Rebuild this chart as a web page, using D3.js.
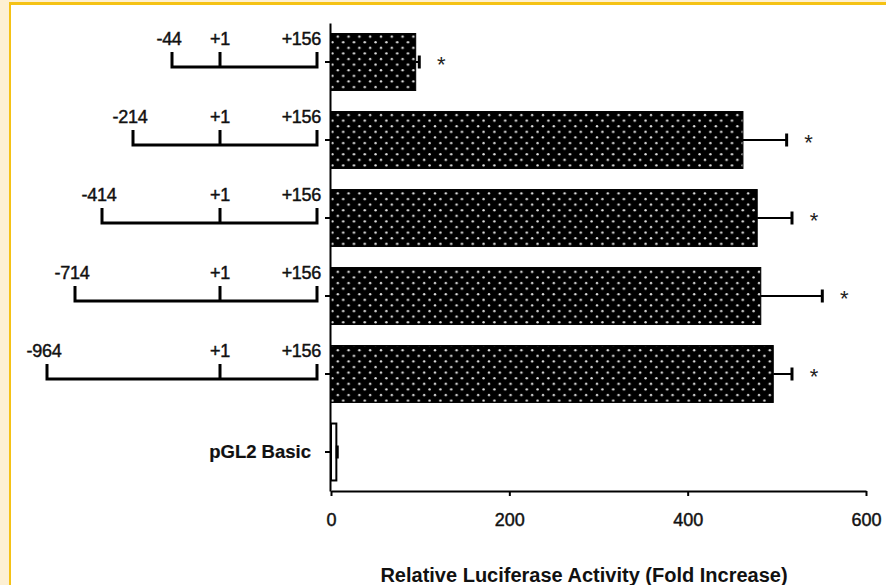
<!DOCTYPE html>
<html>
<head>
<meta charset="utf-8">
<script src="https://cdn.jsdelivr.net/npm/d3@7"></script>
<style>
  body { margin: 0; background: #fff; }
  svg { display: block; font-family: "Liberation Sans", Arial, sans-serif; }
</style>
</head>
<body>
<script>
// constructs, top to bottom
const categories = ["-44", "-214", "-414", "-714", "-964", "pGL2 Basic"];
const starts = [-44, -214, -414, -714, -964, null];
const values = [95, 462, 478, 482, 496, 6];
const errors = [4, 49, 39, 69, 21, 1];
const significant = [true, true, true, true, true, false];
const xTicks = [0, 200, 400, 600];
const tss = 1;
const end = 156;

const width = 886, height = 585;
const svg = d3.select("body").append("svg")
  .attr("width", width)
  .attr("height", height);

// frame: cream strip + yellow border
svg.append("rect").attr("width", width).attr("height", height).attr("fill", "#fdf0d3");
svg.append("rect").attr("x", 9).attr("y", 2).attr("width", width - 9).attr("height", height - 2).attr("fill", "#f5c215");
svg.append("rect").attr("x", 11).attr("y", 5).attr("width", width - 11).attr("height", height - 5).attr("fill", "#fff");

// dotted fill
const pat = svg.append("defs").append("pattern")
  .attr("id", "dots")
  .attr("patternUnits", "userSpaceOnUse")
  .attr("width", 10.8).attr("height", 11.2);
pat.append("rect").attr("width", 10.8).attr("height", 11.2).attr("fill", "#000");
pat.append("circle").attr("cx", 3).attr("cy", 3).attr("r", 1.2).attr("fill", "#e2e2e2");
pat.append("circle").attr("cx", 8.4).attr("cy", 8.6).attr("r", 1.2).attr("fill", "#e2e2e2");

const x = d3.scaleLinear().domain([0, 600]).range([331, 866]);
const y = d3.scaleBand().domain(categories).range([23, 491])
  .paddingInner(0.27).paddingOuter(0.135);

// schematic (not to scale) position of promoter coordinates
const sx = d3.scaleLinear()
  .domain([-964, -714, -414, -214, -44, 1, 156])
  .range([47, 75, 102, 133, 172, 220, 317]);

const rows = categories.map((c, i) => ({
  name: c, start: starts[i], value: values[i], err: errors[i], sig: significant[i]
}));

function inkText(sel, size) {
  sel.attr("font-size", size)
    .attr("fill", "#111")
    .attr("stroke", "#111")
    .attr("stroke-width", 0.45)
    .attr("font-family", "Liberation Sans, Arial, sans-serif");
}

// x axis
const xAxis = svg.append("g")
  .attr("transform", `translate(0,${y.range()[1]})`)
  .call(d3.axisBottom(x).tickValues(xTicks).tickSize(5).tickSizeOuter(0).tickPadding(17));
xAxis.select(".domain").attr("stroke-width", 2);
xAxis.selectAll(".tick line").attr("stroke-width", 2);
xAxis.selectAll("text").call(inkText, 18);

// y axis
const yAxis = svg.append("g")
  .attr("transform", `translate(${x(0) - 1},0)`)
  .call(d3.axisLeft(y).tickSize(5).tickSizeOuter(0).tickPadding(14)
    .tickFormat((d, i) => starts[i] === null ? d : ""));
yAxis.select(".domain").attr("stroke-width", 2);
yAxis.selectAll(".tick line").attr("stroke-width", 2);
yAxis.selectAll("text").call(inkText, 18.5).attr("font-weight", "bold").attr("stroke-width", 0.2);

// bars
svg.append("g").selectAll("rect")
  .data(rows)
  .join("rect")
  .attr("x", x(0))
  .attr("y", d => y(d.name))
  .attr("width", d => x(d.value) - x(0))
  .attr("height", y.bandwidth())
  .attr("fill", d => d.start === null ? "#fff" : "url(#dots)")
  .attr("stroke", "#000")
  .attr("stroke-width", d => d.start === null ? 2 : 1);

// error bars
const eb = svg.append("g").selectAll("g")
  .data(rows)
  .join("g")
  .attr("transform", d => `translate(0,${y(d.name) + y.bandwidth() / 2})`);
eb.append("line")
  .attr("x1", d => x(d.value)).attr("x2", d => x(d.value + d.err))
  .attr("stroke", "#000").attr("stroke-width", 2);
eb.append("line")
  .attr("x1", d => x(d.value + d.err)).attr("x2", d => x(d.value + d.err))
  .attr("y1", -6.5).attr("y2", 6.5)
  .attr("stroke", "#000").attr("stroke-width", 3);

// significance
svg.append("g").selectAll("text")
  .data(rows.filter(d => d.sig))
  .join("text")
  .attr("x", d => x(d.value + d.err) + 22)
  .attr("y", d => y(d.name) + y.bandwidth() / 2 + 10)
  .attr("text-anchor", "middle")
  .attr("font-size", 22)
  .attr("fill", "#222")
  .text("*");

// promoter constructs
const cons = svg.append("g").selectAll("g")
  .data(rows.filter(d => d.start !== null))
  .join("g")
  .attr("transform", d => `translate(0,${y(d.name) + y.bandwidth() / 2})`);

cons.append("path")
  .attr("d", d => `M${sx(d.start)},-10V5H${sx(end)}V-10M${sx(tss)},5V-10`)
  .attr("fill", "none")
  .attr("stroke", "#000")
  .attr("stroke-width", 3);

cons.append("text")
  .attr("x", d => sx(d.start) - 3)
  .attr("y", -17)
  .attr("text-anchor", "middle")
  .text(d => d.name);
cons.append("text")
  .attr("x", sx(tss))
  .attr("y", -17)
  .attr("text-anchor", "middle")
  .text("+" + tss);
cons.append("text")
  .attr("x", sx(end) + 4)
  .attr("y", -17)
  .attr("text-anchor", "end")
  .text("+" + end);
cons.selectAll("text").call(inkText, 18).attr("letter-spacing", -0.3);

// axis title
svg.append("text")
  .attr("x", 584)
  .attr("y", 582)
  .attr("text-anchor", "middle")
  .attr("font-size", 20)
  .attr("font-weight", "bold")
  .attr("fill", "#111")
  .text("Relative Luciferase Activity (Fold Increase)");
</script>
</body>
</html>
